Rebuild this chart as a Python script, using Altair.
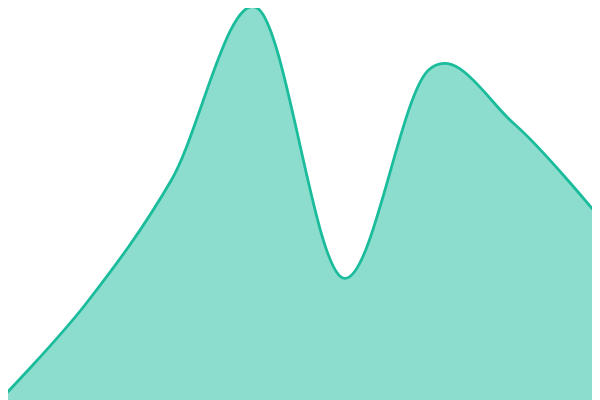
import altair as alt
import pandas as pd

# eight evenly spaced samples, values on a 0-100 scale
idx = [0, 1, 2, 3, 4, 5, 6, 7]
vals = [0, 24, 55, 98, 30.5, 82.5, 69, 45.5]

df = pd.DataFrame({"i": idx, "v": vals})

step = 600 / 7
xsc = alt.Scale(domain=[8 / step, 592 / step], nice=False, zero=False)
ysc = alt.Scale(domain=[0, 98], nice=False)

base = alt.Chart(df).encode(
    x=alt.X("i:Q", scale=xsc, axis=None),
    y=alt.Y("v:Q", scale=ysc, axis=None),
)

area = base.mark_area(interpolate="cardinal", color="#1abc9c", opacity=0.5, clip=True)
line = base.mark_line(interpolate="cardinal", color="#1abc9c", strokeWidth=2.8, clip=True)

chart = (area + line).properties(
    width=584, height=392, padding=0, autosize=alt.AutoSizeParams(type="none")
).configure_view(stroke=None)

chart.save("out.html", embed_options={"renderer": "svg", "actions": False})
